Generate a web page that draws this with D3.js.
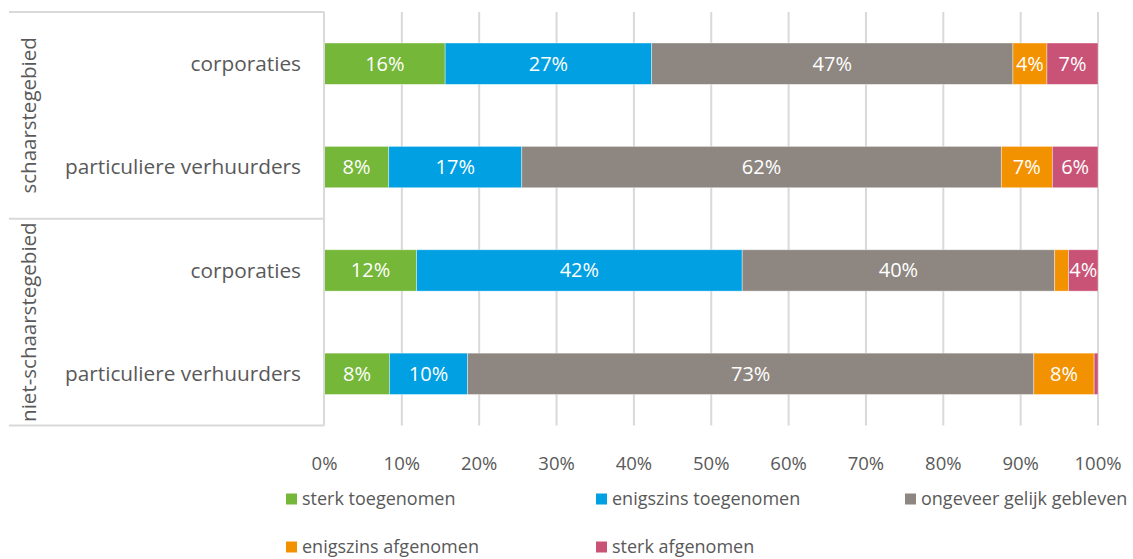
<!DOCTYPE html>
<html>
<head>
<meta charset="utf-8">
<script src="https://cdn.jsdelivr.net/npm/d3@7"></script>
<style>
  body { margin: 0; background: #fff; }
  text { font-family: "Open Sans", sans-serif; }
</style>
</head>
<body>
<div id="chart"></div>
<script>
var groups = ["schaarstegebied", "niet-schaarstegebied"];
var categories = ["corporaties", "particuliere verhuurders", "corporaties", "particuliere verhuurders"];
var seriesNames = ["sterk toegenomen", "enigszins toegenomen", "ongeveer gelijk gebleven", "enigszins afgenomen", "sterk afgenomen"];
var seriesColors = ["#75b738", "#00a0e2", "#8e8781", "#f39200", "#c95377"];
// percentages per row, in series order
var sterkToe = [15.6, 8.3, 11.9, 8.4];
var enigszinsToe = [26.7, 17.2, 42.1, 10.1];
var gelijk = [46.7, 62.0, 40.4, 73.2];
var enigszinsAf = [4.4, 6.6, 1.8, 7.8];
var sterkAf = [6.6, 5.9, 3.8, 0.5];
var xTicks = [0, 10, 20, 30, 40, 50, 60, 70, 80, 90, 100];

var series = [sterkToe, enigszinsToe, gelijk, enigszinsAf, sterkAf];

var width = 1133, height = 559;
var margin = { top: 12, right: 35, bottom: 134, left: 324 };

var svg = d3.select("#chart").append("svg")
    .attr("width", width)
    .attr("height", height);

var xScale = d3.scaleLinear().domain([0, 100]).range([margin.left + 0.5, width - margin.right]);
var yScale = d3.scaleBand()
    .domain(d3.range(categories.length))
    .range([margin.top, height - margin.bottom + 0.5])
    .paddingInner(0.6)
    .paddingOuter(0.3);

var gridColor = "#d9d9d9";
var textColor = "#595959";

// vertical gridlines
svg.append("g")
    .selectAll("line")
    .data(xTicks.slice(1))
    .enter().append("line")
    .attr("x1", function (d) { return xScale(d); })
    .attr("x2", function (d) { return xScale(d); })
    .attr("y1", margin.top)
    .attr("y2", height - margin.bottom + 0.5)
    .style("stroke", gridColor)
    .style("stroke-width", 2);

// x axis tick labels
svg.append("g")
    .selectAll("text")
    .data(xTicks)
    .enter().append("text")
    .attr("x", function (d) { return xScale(d); })
    .attr("y", 470)
    .attr("text-anchor", "middle")
    .style("font-size", "18.5px")
    .style("fill", textColor)
    .text(function (d) { return d + "%"; });

// stacked bars
var stackData = categories.map(function (c, i) {
    var x0 = 0;
    return series.map(function (s, j) {
        var seg = { row: i, series: j, value: s[i], x0: x0, x1: x0 + s[i] };
        x0 += s[i];
        return seg;
    });
});
var segments = [].concat.apply([], stackData);

svg.append("g")
    .selectAll("rect")
    .data(segments)
    .enter().append("rect")
    .attr("x", function (d) { return xScale(d.x0); })
    .attr("width", function (d) { return xScale(d.x1) - xScale(d.x0); })
    .attr("y", function (d) { return yScale(d.row); })
    .attr("height", yScale.bandwidth())
    .style("fill", function (d) { return seriesColors[d.series]; })
    .style("stroke", "rgba(255,255,255,0.5)")
    .style("stroke-width", 0.75);

svg.append("g")
    .selectAll("text")
    .data(segments.filter(function (d) { return d.value >= 3; }))
    .enter().append("text")
    .attr("x", function (d) { return (xScale(d.x0) + xScale(d.x1)) / 2; })
    .attr("y", function (d) { return yScale(d.row) + yScale.bandwidth() / 2; })
    .attr("dy", "0.35em")
    .attr("text-anchor", "middle")
    .style("font-size", "20px")
    .style("fill", "#fff")
    .text(function (d) { return Math.round(d.value) + "%"; });

// category axis (multi-level)
var axisX = margin.left;
var outerX = 9;
var bandEdges = [margin.top, (yScale(1) + yScale.bandwidth() + yScale(2)) / 2, height - margin.bottom + 0.5];
var axisG = svg.append("g").style("stroke", gridColor).style("stroke-width", 2);
axisG.append("line")
    .attr("x1", axisX).attr("x2", axisX)
    .attr("y1", margin.top).attr("y2", height - margin.bottom + 0.5);
axisG.selectAll(".sep")
    .data(bandEdges)
    .enter().append("line")
    .attr("class", "sep")
    .attr("x1", outerX).attr("x2", axisX)
    .attr("y1", function (d) { return d; })
    .attr("y2", function (d) { return d; });

svg.append("g")
    .selectAll("text")
    .data(categories)
    .enter().append("text")
    .attr("x", axisX - 23)
    .attr("y", function (d, i) { return yScale(i) + yScale.bandwidth() / 2; })
    .attr("dy", "0.35em")
    .attr("text-anchor", "end")
    .style("font-size", "20.8px")
    .style("fill", textColor)
    .text(function (d) { return d; });

svg.append("g")
    .selectAll("text")
    .data(groups)
    .enter().append("text")
    .attr("transform", function (d, i) {
        var cy = (bandEdges[i] + bandEdges[i + 1]) / 2;
        return "translate(29," + cy + ") rotate(-90)";
    })
    .attr("dy", "0.35em")
    .attr("text-anchor", "middle")
    .style("font-size", "20.5px")
    .style("fill", textColor)
    .text(function (d) { return d; });

// legend
var legendPos = [[286, 499], [596, 499], [905, 499], [286, 547], [596, 547]];
var legend = svg.append("g")
    .selectAll("g")
    .data(seriesNames)
    .enter().append("g")
    .attr("transform", function (d, i) { return "translate(" + legendPos[i][0] + "," + legendPos[i][1] + ")"; });

legend.append("rect")
    .attr("x", 0)
    .attr("y", -5.5)
    .attr("width", 11)
    .attr("height", 11)
    .style("fill", function (d, i) { return seriesColors[i]; });

legend.append("text")
    .attr("x", 16)
    .attr("dy", "0.35em")
    .style("font-size", "18px")
    .style("fill", textColor)
    .text(function (d) { return d; });
</script>
</body>
</html>
